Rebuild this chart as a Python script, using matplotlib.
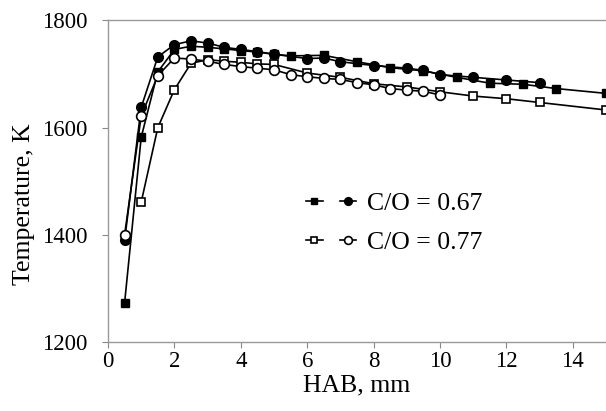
import matplotlib
matplotlib.use("Agg")
import matplotlib.pyplot as plt
from matplotlib.legend_handler import HandlerTuple

plt.rcParams['font.family'] = ['Liberation Serif', 'DejaVu Serif']

# C/O = 0.67, squares (filled)
x_sq67 = [0.5, 1, 1.5, 2, 2.5, 3, 3.5, 4, 4.5, 5, 5.5, 6.5, 7.5, 8.5, 9.5, 10.5, 11.5, 12.5, 13.5, 15]
t_sq67 = [1273, 1582, 1704, 1746, 1752, 1750, 1747, 1744, 1741, 1737, 1734, 1735, 1723, 1712, 1706, 1694, 1683, 1681, 1673, 1664]
# C/O = 0.67, circles (filled)
x_ci67 = [0.5, 1, 1.5, 2, 2.5, 3, 3.5, 4, 4.5, 5, 6, 6.5, 7, 8, 9, 9.5, 10, 11, 12, 13]
t_ci67 = [1390, 1638, 1732, 1755, 1762, 1758, 1750, 1746, 1742, 1737, 1729, 1730, 1723, 1716, 1711, 1707, 1699, 1694, 1689, 1684]
# C/O = 0.77, squares (open)
x_sq77 = [1, 1.5, 2, 2.5, 3, 3.5, 4, 4.5, 5, 6, 7, 8, 9, 10, 11, 12, 13, 15]
t_sq77 = [1461, 1600, 1671, 1720, 1727, 1724, 1722, 1719, 1718, 1702, 1694, 1682, 1676, 1667, 1659, 1654, 1647, 1633]
# C/O = 0.77, circles (open)
x_ci77 = [0.5, 1, 1.5, 2, 2.5, 3, 3.5, 4, 4.5, 5, 5.5, 6, 6.5, 7, 7.5, 8, 8.5, 9, 9.5, 10]
t_ci77 = [1400, 1622, 1697, 1730, 1728, 1724, 1718, 1714, 1711, 1708, 1699, 1695, 1692, 1690, 1684, 1680, 1673, 1670, 1668, 1661]

labels = ['C/O = 0.67', 'C/O = 0.77']
xticks = [0, 2, 4, 6, 8, 10, 12, 14]
yticks = [1200, 1400, 1600, 1800]

W, H = 606, 411
fig = plt.figure(figsize=(W / 100, H / 100), dpi=100)
ax = fig.add_axes([108 / W, (H - 342) / H, 1 - 108 / W, (342 - 20.5) / H])

lw = 1.2
ms_sq = 6
ms_ci = 7
l1, = ax.plot(x_sq67, t_sq67, color='black', lw=lw, marker='s', ms=ms_sq, mfc='black', mec='black', clip_on=False, zorder=3)
l2, = ax.plot(x_ci67, t_ci67, color='black', lw=lw, marker='o', ms=ms_ci, mfc='black', mec='black', clip_on=False, zorder=4)
l3, = ax.plot(x_sq77, t_sq77, color='black', lw=lw, marker='s', ms=ms_sq, mfc='white', mec='black', mew=1.2, clip_on=False, zorder=3)
l4, = ax.plot(x_ci77, t_ci77, color='black', lw=lw, marker='o', ms=ms_ci, mfc='white', mec='black', mew=1.2, clip_on=False, zorder=4)

ax.set_xlim(0, 15)
ax.set_ylim(1200, 1800)
ax.set_xticks(xticks)
ax.set_yticks(yticks)
ax.tick_params(direction='out', length=4.5, color='#888888', labelsize=16.5)
ax.tick_params(axis='y', pad=10.5)
ax.tick_params(axis='x', pad=2)
for s in ['left', 'bottom', 'top']:
    ax.spines[s].set_color('#999999')
    ax.spines[s].set_linewidth(1.0)
ax.spines['right'].set_visible(False)

ax.set_xlabel('HAB, mm', fontsize=18.5, labelpad=2)
ax.set_ylabel('Temperature, K', fontsize=18.5)
ax.yaxis.set_label_coords(-0.147, 0.43)

leg = ax.legend([(l1, l2), (l3, l4)], labels,
                handler_map={tuple: HandlerTuple(ndivide=None, pad=0.65)},
                frameon=False, fontsize=18.5, loc='center left',
                bbox_to_anchor=(306 / W, 1 - 223 / H), bbox_transform=fig.transFigure,
                borderaxespad=0, borderpad=0, handlelength=1.96,
                handletextpad=0.4, labelspacing=0.65, markerscale=0.8)

fig.savefig('out.png', dpi=100)
